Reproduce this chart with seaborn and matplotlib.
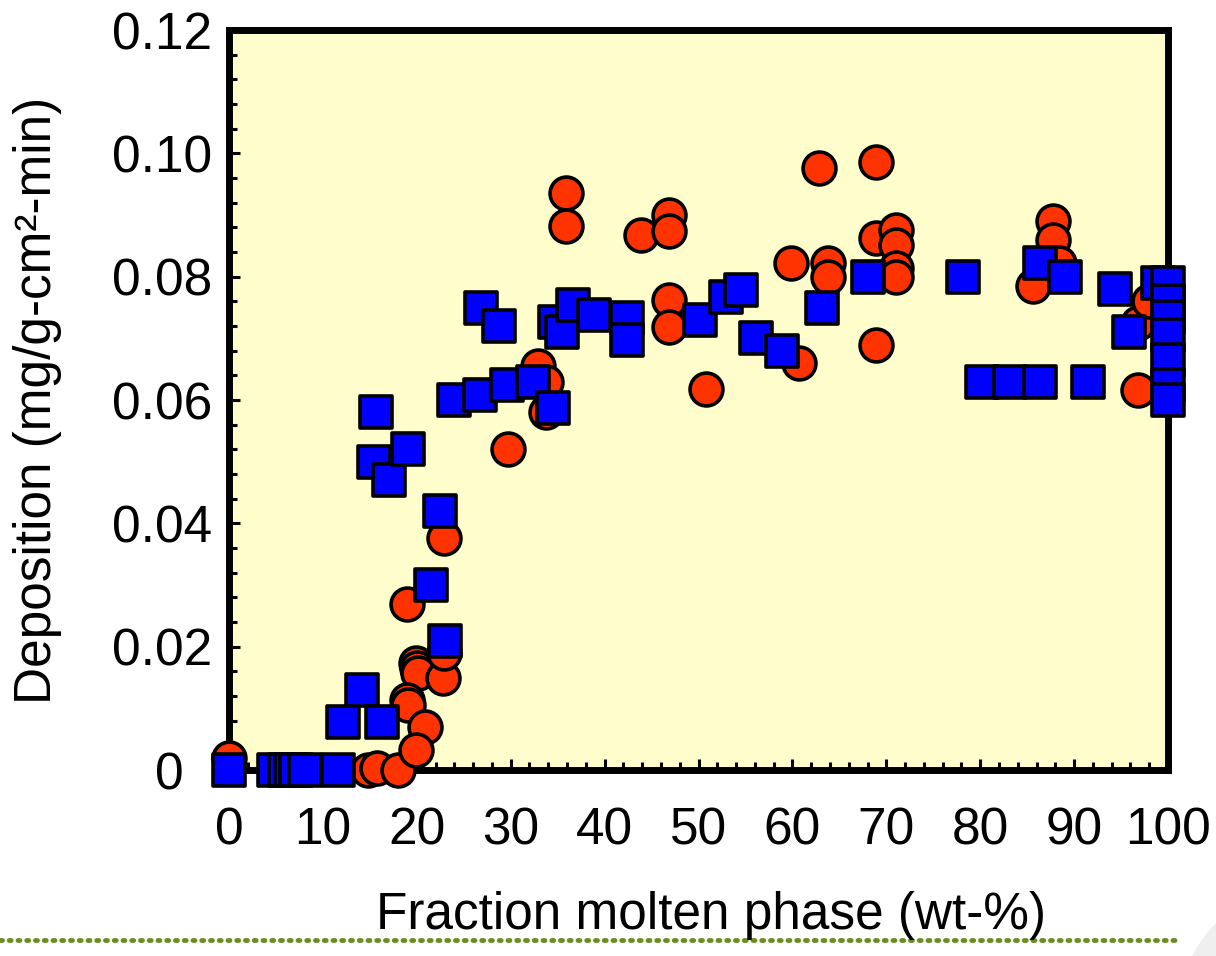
import numpy as np
import pandas as pd
import matplotlib
matplotlib.use("Agg")
from matplotlib import pyplot as plt
from matplotlib.lines import Line2D
from matplotlib.patches import Ellipse
from matplotlib.ticker import MultipleLocator, FixedLocator, FixedFormatter
import seaborn as sns

# red circles
circle_x = [0.0, 14.8, 15.8, 18.0, 19.0, 19.9, 20.0, 20.1, 19.0, 19.1,
            20.9, 19.9, 22.8, 22.9, 22.9, 29.7, 32.9, 33.8, 33.8, 35.9,
            35.9, 43.9, 46.9, 46.9, 46.9, 46.9, 50.8, 59.9, 60.7, 62.8,
            63.8, 63.8, 68.9, 68.9, 68.9, 71.0, 71.0, 71.0, 71.0, 85.6,
            87.8, 87.8, 88.4, 96.8, 96.8, 98.0]
circle_y = [0.002, 0.0, 0.0004, 0.0, 0.027, 0.0174, 0.0165, 0.0157, 0.0114, 0.0105,
            0.007, 0.0032, 0.015, 0.019, 0.0376, 0.052, 0.0655, 0.063, 0.058, 0.0935,
            0.0882, 0.0868, 0.090, 0.0874, 0.0762, 0.0718, 0.0618, 0.0822, 0.066, 0.0976,
            0.0822, 0.080, 0.0986, 0.0863, 0.0689, 0.0876, 0.0852, 0.0814, 0.080, 0.0785,
            0.0890, 0.0860, 0.0822, 0.0616, 0.0725, 0.076]

# blue squares
square_x = [0.0, 4.8, 6.0, 6.6, 7.1, 8.1, 11.6, 12.1, 14.2, 16.3,
            15.7, 15.4, 17.0, 19.1, 21.5, 22.5, 23.0, 24.0, 26.8, 26.7,
            28.8, 29.6, 32.4, 34.7, 34.5, 35.5, 36.6, 38.9, 42.4, 42.4,
            50.2, 52.9, 54.5, 56.1, 58.9, 63.2, 68.0, 78.2, 80.2, 83.2,
            86.4, 86.4, 89.0, 91.5, 94.4, 95.8, 98.9, 100, 100, 100,
            100, 100, 100, 100]
square_y = [0.0, 0.0, 0.0, 0.0, 0.0, 0.0, 0.0, 0.0078, 0.013, 0.0078,
            0.058, 0.050, 0.047, 0.052, 0.030, 0.042, 0.021, 0.060, 0.075, 0.0608,
            0.072, 0.0624, 0.063, 0.0727, 0.0587, 0.071, 0.0754, 0.0738, 0.0733, 0.0697,
            0.073, 0.0767, 0.0778, 0.070, 0.068, 0.075, 0.080, 0.080, 0.063, 0.063,
            0.063, 0.0822, 0.080, 0.063, 0.078, 0.071, 0.079, 0.079, 0.076, 0.0735,
            0.0705, 0.0665, 0.0625, 0.060]

y_ticks = [0, 0.02, 0.04, 0.06, 0.08, 0.10, 0.12]
y_labels = ['0  ', '0.02', '0.04', '0.06', '0.08', '0.10', '0.12']

sns.set_style("ticks")
plt.rcParams['font.family'] = ['Liberation Sans', 'DejaVu Sans']
plt.rcParams['text.color'] = 'black'
plt.rcParams['axes.labelcolor'] = 'black'

fig = plt.figure(figsize=(12.16, 9.56), dpi=100)
ax = fig.add_axes([229 / 1216, 1 - 770 / 956, (1168 - 229) / 1216, (770 - 30) / 956])
ax.set_facecolor('#FFFDCC')

df_c = pd.DataFrame({'x': circle_x, 'y': circle_y})
df_s = pd.DataFrame({'x': square_x, 'y': square_y})

sns.scatterplot(data=df_c, x='x', y='y', marker='o', s=560, color='#FF3300',
                edgecolor='black', linewidth=2.6, ax=ax, clip_on=False, zorder=3)
sns.scatterplot(data=df_s, x='x', y='y', marker='s', s=540, color='#0000FF',
                edgecolor='black', linewidth=2.6, ax=ax, clip_on=False, zorder=4)

ax.set_xlim(0, 100)
ax.set_ylim(0, 0.12)
ax.xaxis.set_major_locator(MultipleLocator(10))
ax.xaxis.set_minor_locator(MultipleLocator(2))
ax.yaxis.set_major_locator(FixedLocator(y_ticks))
ax.yaxis.set_major_formatter(FixedFormatter(y_labels))
ax.yaxis.set_minor_locator(MultipleLocator(0.004))

for sp in ax.spines.values():
    sp.set_linewidth(5)
    sp.set_color('black')

ax.tick_params(which='major', direction='in', length=8, width=2.2,
               labelsize=37, colors='black')
ax.tick_params(which='minor', direction='in', length=5.5, width=2.2, colors='black')
ax.tick_params(axis='x', which='major', pad=26)
ax.tick_params(axis='y', which='major', pad=12)
ax.tick_params(top=False, right=False, which='both')

ax.set_xlabel('')
ax.set_ylabel('Deposition (mg/g-cm²-min)', fontsize=37, labelpad=36, color='black')

fig.text(711 / 1216, 1 - 915 / 956, 'Fraction molten phase (wt-%)',
         fontsize=37, ha='center', va='center', color='black')

# dotted rule at the bottom of the slide
fig.add_artist(Line2D([0.0, 1180 / 1216], [1 - 940 / 956, 1 - 940 / 956],
                      transform=fig.transFigure, color='#6B8E23', linewidth=3.5,
                      linestyle=(0, (0.4, 1.4)), dash_capstyle='round', zorder=0))
fig.add_artist(Ellipse((1300 / 1216, 1 - 1010 / 956), 2 * 120 / 1216, 2 * 120 / 956,
                       transform=fig.transFigure, color='#EFEFEF', zorder=-1))

fig.savefig('out.png', dpi=100)
